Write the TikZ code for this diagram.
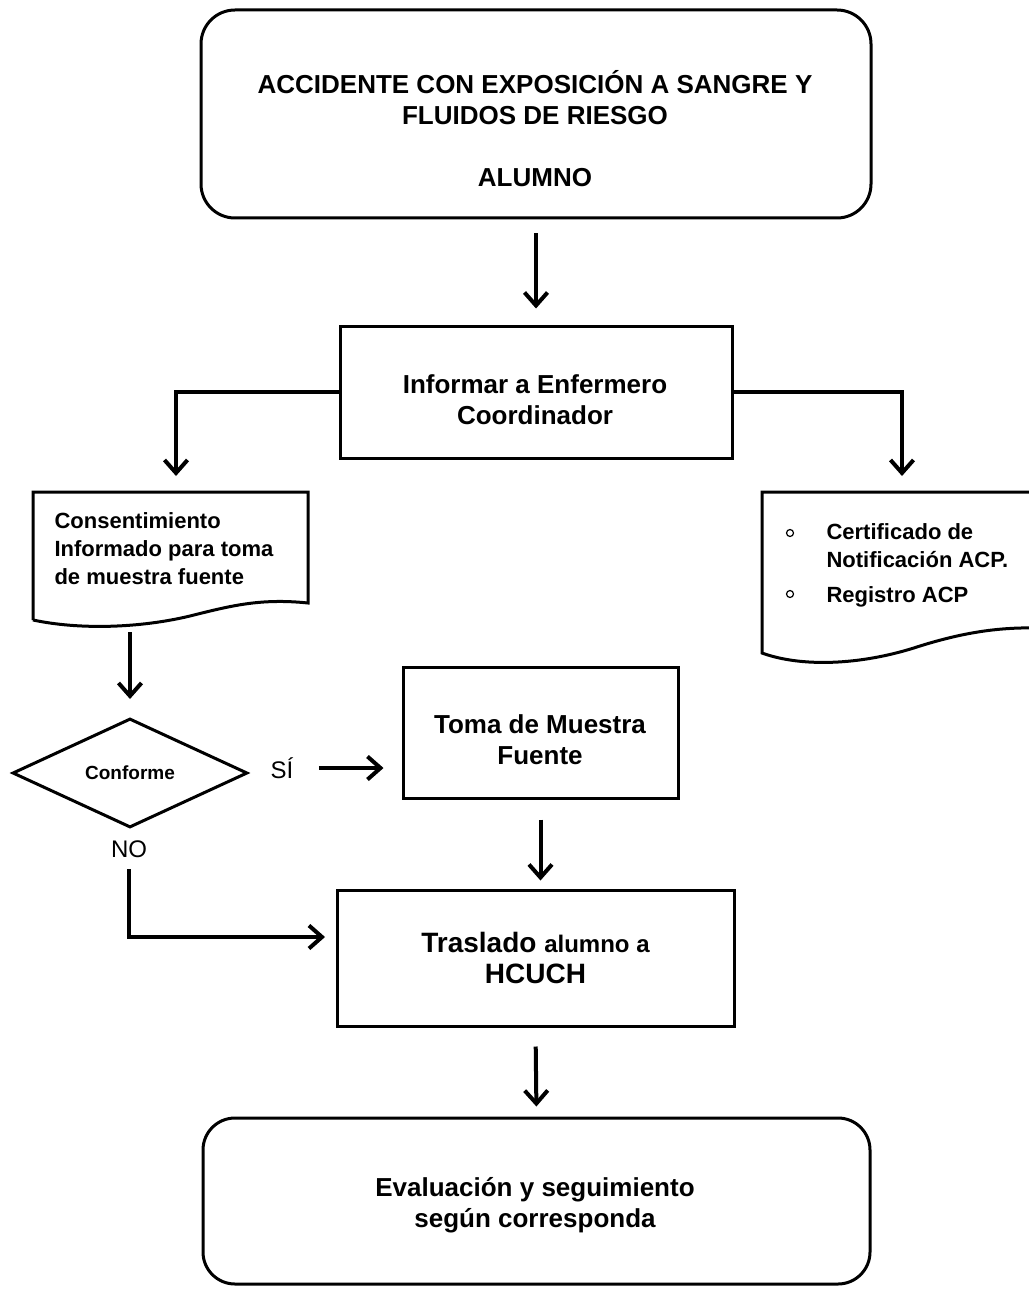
\documentclass[tikz,border=0pt]{standalone}
\usepackage{fontspec}
\setmainfont{Liberation Sans}
\usetikzlibrary{arrows.meta,shapes.geometric}
\begin{document}
\begin{tikzpicture}[x=1pt,y=-1pt,
  box/.style={draw, line width=3pt, inner sep=0pt},
  rbox/.style={box, rounded corners=34pt},
  txt/.style={align=center, font=\fontsize{26}{31}\selectfont\bfseries},
  smalltxt/.style={align=left, font=\fontsize{22}{28}\selectfont\bfseries},
  lbl/.style={font=\fontsize{24}{28}\selectfont},
  doc/.style={line width=3pt, line join=miter},
  arr/.style={line width=4pt, -{Straight Barb[length=13pt,width=23pt]}}]
\useasboundingbox (0,0) rectangle (1028,1289);
% top rounded box
\node[rbox, minimum width=670pt, minimum height=208pt] (top) at (536,114) {};
\node[txt] (topt) at (535,129) {ACCIDENTE CON EXPOSICIÓN A SANGRE Y\\FLUIDOS DE RIESGO\\[31pt]ALUMNO};
% informar
\node[box, minimum width=392pt, minimum height=132pt] (b2) at (536,392) {};
\node[txt] (b2t) at (535,400) {Informar a Enfermero\\Coordinador};
% left document
\draw[doc] (33,620) -- (33,492) -- (308,492) -- (308,603)
  .. controls (260,598) and (230,606) .. (190,616)
  .. controls (140,628) and (80,630) .. (33,620);
\coordinate (dLtop) at (176,492);
\coordinate (dLbot) at (130,627);
\node[smalltxt, anchor=west] (dlt) at (51,549) {Consentimiento\\Informado para toma\\de muestra fuente};
% right document
\draw[doc] (1040,492) -- (762,492) -- (762,653)
  .. controls (800,667) and (860,666) .. (920,646)
  .. controls (965,632) and (1000,627) .. (1040,628);
\coordinate (dRtop) at (902,492);
\draw[line width=1.2pt] (790,533) circle (3.5pt);
\draw[line width=1.2pt] (790,594) circle (3.5pt);
\node[smalltxt, anchor=west] (drt) at (823,565) {Certificado de\\Notificación ACP.\\[7pt]Registro ACP};
% decision
\node[draw, diamond, line width=3pt, minimum width=235pt, minimum height=109pt, inner sep=0pt,
  font=\fontsize{19}{22}\selectfont\bfseries] (dia) at (130,773) {Conforme};
\node[lbl] (si) at (282,768) {SÍ};
\node[lbl] (no) at (129,849) {NO};
% toma de muestra
\node[box, minimum width=275pt, minimum height=131pt] (toma) at (540.5,732.5) {};
\node[txt] (tomat) at (540,740) {Toma de Muestra\\Fuente};
% traslado
\node[box, minimum width=397pt, minimum height=136pt, align=center,
  font=\fontsize{28}{31}\selectfont\bfseries] (tras) at (535.5,958)
  {Traslado {\fontsize{24}{31}\selectfont alumno a}\\HCUCH};
% bottom
\node[rbox, rounded corners=32pt, minimum width=667pt, minimum height=166pt] (bot) at (536.5,1201) {};
\node[txt] (bott) at (535,1205) {Evaluación y seguimiento\\según corresponda};
\coordinate (noend) at (325,937);
% connectors
\draw[arr, shorten <=14pt, shorten >=16pt] (top.south) -- (b2.north);
\draw[arr] (b2.west) -| ([yshift=16pt]dLtop);
\draw[arr] (b2.east) -| ([yshift=16pt]dRtop);
\draw[arr, shorten <=5pt, shorten >=18pt] (dLbot) -- (dia.north);
\draw[arr] ([xshift=22pt]si.east) -- ([xshift=-18pt]toma.west |- si.east);
\draw[arr, shorten <=20pt, shorten >=8pt] (toma.south) -- (toma.south |- tras.north);
\draw[arr] ([yshift=-8pt]no.south) |- (noend);
\draw[arr, shorten <=19pt, shorten >=10pt] (tras.south) -- (bot.north);
\end{tikzpicture}
\end{document}
